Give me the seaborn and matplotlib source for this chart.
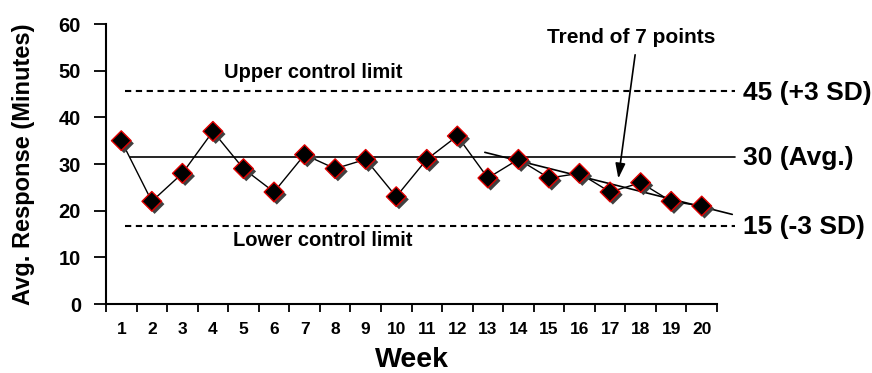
import matplotlib
matplotlib.use("Agg")
import matplotlib.pyplot as plt
import matplotlib.patheffects as pe
from matplotlib.ticker import FixedLocator
import numpy as np
import pandas as pd
import seaborn as sns

weeks = list(range(1, 21))
response = [35, 22, 28, 37, 29, 24, 32, 29, 31, 23, 31, 36, 27, 31, 27, 28, 24, 26, 22, 21]
avg_level = 31.5
upper_level = 45.7
lower_level = 16.8
trend_x = [12.9, 21.0]
trend_y = [32.5, 19.2]
right_labels = ["45 (+3 SD)", "30 (Avg.)", "15 (-3 SD)"]
yticks = [0, 10, 20, 30, 40, 50, 60]

df = pd.DataFrame({"Week": weeks, "Response": response})

sns.set_style("ticks")
plt.rcParams["font.family"] = ["Liberation Sans", "DejaVu Sans"]
plt.rcParams["font.weight"] = "bold"
for k in ["text.color", "axes.labelcolor", "xtick.color", "ytick.color", "axes.edgecolor"]:
    plt.rcParams[k] = "black"

fig = plt.figure(figsize=(8.72, 3.73), dpi=100)
ax = fig.add_axes([106 / 872, 1 - 304 / 373, 611 / 872, 280 / 373])

sns.lineplot(data=df, x="Week", y="Response", ax=ax, color="black", lw=1.0, zorder=3)
sns.scatterplot(data=df, x="Week", y="Response", ax=ax, marker="D", s=100,
                color="black", edgecolor="#e00000", linewidth=1.0, zorder=4)
for coll in ax.collections:
    coll.set_path_effects([pe.SimplePatchShadow(offset=(2, -2), shadow_rgbFace="0.25", alpha=1.0),
                           pe.Normal()])

xa0, xa1 = 1.12, 21.09
ax.plot([1.29, xa1], [avg_level, avg_level], color="black", lw=1.2, clip_on=False, zorder=2)
ax.plot([xa0, xa1], [upper_level, upper_level], color="black", lw=1.5, ls=(0, (3, 2.2)), clip_on=False, zorder=2)
ax.plot([xa0, xa1], [lower_level, lower_level], color="black", lw=1.5, ls=(0, (3, 2.2)), clip_on=False, zorder=2)
ax.plot(trend_x, trend_y, color="black", lw=1.2, clip_on=False, zorder=2)

for lab, yv in zip(right_labels, [45.2, 31.3, 16.5]):
    ax.text(21.35, yv, lab, ha="left", va="center", fontsize=19, fontweight="bold", clip_on=False)

ax.text(7.28, 49.6, "Upper control limit", ha="center", va="center", fontsize=14.5, fontweight="bold")
ax.text(7.6, 13.6, "Lower control limit", ha="center", va="center", fontsize=14.5, fontweight="bold")
ax.text(17.7, 57.1, "Trend of 7 points", ha="center", va="center", fontsize=15, fontweight="bold", clip_on=False)
ax.annotate("", xy=(17.27, 26.9), xytext=(17.82, 53.4),
            arrowprops=dict(arrowstyle="-|>,head_length=0.9,head_width=0.3", color="black", lw=1.2,
                            shrinkA=0, shrinkB=0))

ax.set_xlim(0.5, 20.5)
ax.set_ylim(0, 60)
ax.set_yticks(yticks)
ax.set_yticklabels([str(v) for v in yticks], fontsize=14.5, fontweight="bold")
ax.xaxis.set_major_locator(FixedLocator(np.arange(0.5, 21, 1.0)))
ax.xaxis.set_minor_locator(FixedLocator(weeks))
ax.set_xticklabels([])
ax.set_xticklabels([str(w) for w in weeks], minor=True, fontsize=12.5, fontweight="bold")
ax.tick_params(axis="x", which="major", length=6, width=1.3, direction="out", color="black")
ax.tick_params(axis="x", which="minor", length=0, pad=13, labelcolor="black")
ax.tick_params(axis="y", length=9, width=1.3, direction="out", pad=9, color="black", labelcolor="black")

sns.despine(ax=ax)
for s in ["left", "bottom"]:
    ax.spines[s].set_linewidth(1.5)
    ax.spines[s].set_color("black")

ax.set_xlabel("Week", fontsize=20.5, fontweight="bold", labelpad=7, color="black")
ax.set_ylabel("Avg. Response (Minutes)", fontsize=17, fontweight="bold", labelpad=17, color="black")

fig.savefig("out.png", dpi=100, facecolor="white")
